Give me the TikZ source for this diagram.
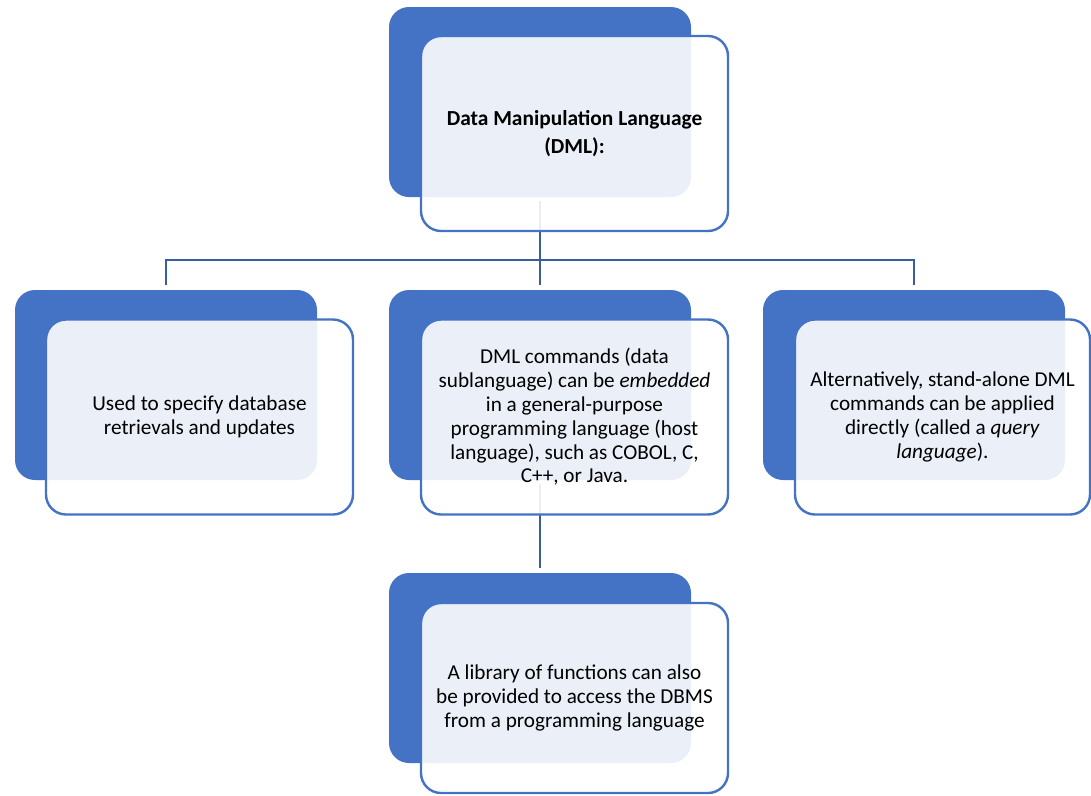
\documentclass[tikz,border=0pt]{standalone}
\usepackage{fontspec}
\setmainfont{Carlito}
\definecolor{accent}{RGB}{68,114,196}
\definecolor{linkblue}{RGB}{58,92,160}
\tikzset{
  x=1pt, y=-1pt,
  backbox/.style={fill=accent, draw=none, rounded corners=20pt,
    minimum width=302pt, minimum height=190pt, inner sep=0pt},
  frontbox/.style={fill=white, fill opacity=0.89, text opacity=1,
    draw=accent, line width=2.4pt, rounded corners=20pt,
    minimum width=307pt, minimum height=195pt, inner sep=0pt,
    align=center, font=\fontsize{21.2}{23.8}\selectfont},
  conn/.style={draw=linkblue, line width=2.6pt, shorten <=4pt, shorten >=5pt},
}
\begin{document}
\begin{tikzpicture}
\useasboundingbox (0,0) rectangle (1091,795);

% dark back plates
\node[backbox] (topB)   at (540,102) {};
\node[backbox] (leftB)  at (166,385) {};
\node[backbox] (midB)   at (540,385) {};
\node[backbox] (rightB) at (914,385) {};
\node[backbox] (botB)   at (540,668) {};

% tree connectors
\coordinate (bus) at (540,260);
\draw[conn] (topB.south) -- (bus) -| (leftB.north);
\draw[conn] (topB.south) -- (bus) -| (rightB.north);
\draw[conn] (topB.south) -- (midB.north);
\draw[conn] (midB.south) -- (botB.north);

% light front cards with text
\node[frontbox, font=\fontsize{21.4}{28}\selectfont\bfseries] (topF) at (574.5,133.5)
  {Data Manipulation Language\\(DML):};
\node[frontbox] (leftF) at (199.5,417)
  {Used to specify database\\retrievals and updates};
\node[frontbox] (midF) at (574.5,417)
  {DML commands (data\\sublanguage) can be \textit{embedded}\\in a general-purpose\\programming language (host\\language), such as COBOL, C,\\C++, or Java.};
\node[frontbox, minimum width=295pt] (rightF) at (942.5,417)
  {Alternatively, stand-alone DML\\commands can be applied\\directly (called a \textit{query}\\\textit{language}).};
\node[frontbox, minimum height=190pt] (botF) at (574.5,698)
  {A library of functions can also\\be provided to access the DBMS\\from a programming language};
\end{tikzpicture}
\end{document}
